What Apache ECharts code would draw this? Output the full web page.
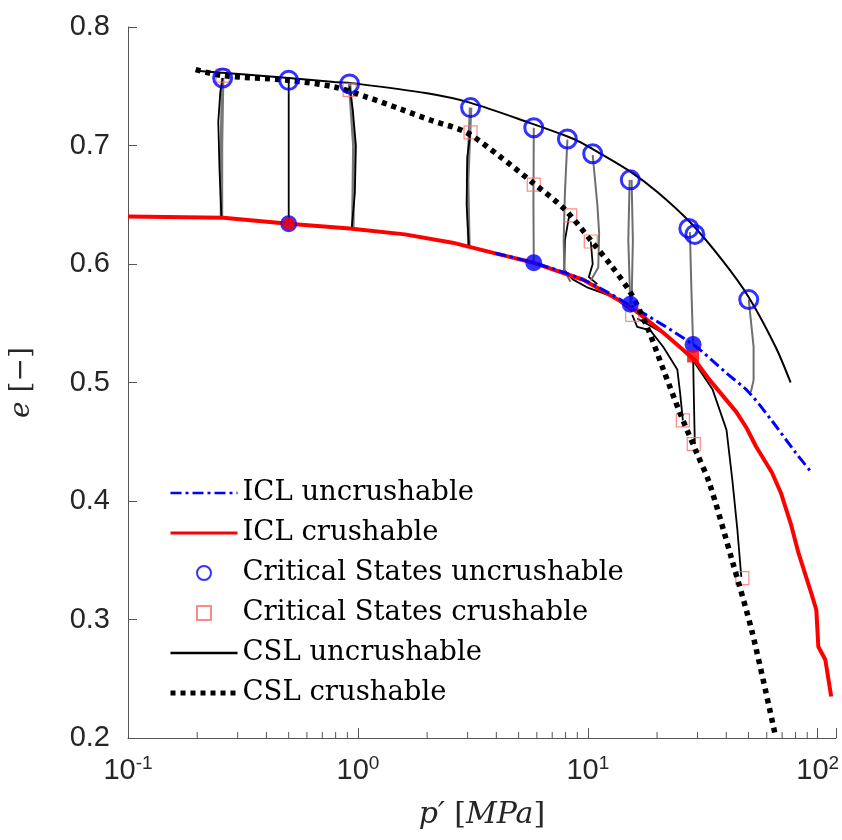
<!DOCTYPE html>
<html><head><meta charset="utf-8">
<script src="https://cdn.jsdelivr.net/npm/echarts@6/dist/echarts.min.js"></script>
<style>html,body{margin:0;padding:0;background:#fff}#c{width:842px;height:840px}</style>
</head><body><div id="c"></div>
<script>
// ---- tick labels ----
const xTickValues = [0.1, 1, 10, 100];
const xTickExponents = ['-1', '0', '1', '2'];
const minorTickValues = [0.2,0.3,0.4,0.5,0.6,0.7,0.8,0.9,2,3,4,5,6,7,8,9,20,30,40,50,60,70,80,90];

// ---- ICL uncrushable ----
const iclUncP = [3.96, 5.82, 9.6, 15.3, 28.7, 40, 50, 63, 80, 94];
const iclUncE = [0.609, 0.601, 0.5865, 0.565, 0.532, 0.508, 0.492, 0.468, 0.441, 0.424];
// ---- ICL crushable ----
const iclCruP = [0.1, 0.26, 0.5, 0.92, 1.6, 2.58, 3.96, 5.82, 9.6, 15.3, 21.3, 29.2, 33.9, 44.3, 48.9, 53.9, 63.2, 69.1, 76.3, 82.5, 93.8, 98.6, 100.6, 107.9, 114.4];
const iclCruE = [0.640, 0.639, 0.634, 0.630, 0.625, 0.618, 0.609, 0.601, 0.5865, 0.564, 0.542, 0.519, 0.502, 0.475, 0.462, 0.446, 0.424, 0.407, 0.381, 0.356, 0.322, 0.308, 0.277, 0.266, 0.235];
// ---- CSL uncrushable ----
const cslUncP = [0.197, 0.5, 0.789, 1, 2, 3.09, 5.71, 8.06, 9.36, 10.5, 15.3, 20, 27.8, 38.5, 50.1, 65.6, 76.2];
const cslUncE = [0.763, 0.757, 0.7536, 0.752, 0.744, 0.736, 0.7185, 0.708, 0.7025, 0.697, 0.678, 0.661, 0.6354, 0.603, 0.572, 0.530, 0.500];
// ---- CSL crushable ----
const cslCruP = [0.197, 0.258, 0.5, 0.789, 1.093, 1.53, 2.12, 2.94, 4.12, 5.71, 7.91, 10.6, 12.6, 15.3, 18.1, 21.3, 25.2, 29.7, 33.8, 42.4, 51.9, 65.6];
const cslCruE = [0.764, 0.759, 0.755, 0.7494, 0.7409, 0.7308, 0.7207, 0.7114, 0.6911, 0.6692, 0.6464, 0.617, 0.599, 0.576, 0.547, 0.511, 0.474, 0.441, 0.415, 0.350, 0.289, 0.201];
// ---- Critical states uncrushable (open circles) ----
const csUncP = [0.258, 0.50, 0.92, 3.09, 5.82, 8.15, 10.5, 15.3, 27.5, 29.2, 50.1];
const csUncE = [0.757, 0.755, 0.752, 0.732, 0.715, 0.7055, 0.693, 0.671, 0.630, 0.625, 0.570];
// ---- Critical states crushable (open squares) ----
const csCruP = [0.258, 0.92, 3.09, 5.82, 8.38, 10.3, 15.6, 25.9, 28.9, 47];
const csCruE = [0.759, 0.747, 0.711, 0.667, 0.641, 0.619, 0.557, 0.468, 0.448, 0.335];
// ---- initial states (filled markers) ----
const initUncP = [0.5, 5.82, 15.3, 28.7];
const initUncE = [0.634, 0.601, 0.566, 0.532];
const initCruCircleP = [0.5];
const initCruCircleE = [0.634];
const initCruSquareP = [28.7];
const initCruSquareE = [0.522];

// ---- test paths (crushable, black) ----
const pathCruA = [[0.255,0.639],[0.250,0.68],[0.247,0.72],[0.252,0.745],[0.258,0.757]];
const pathCruB = [[0.5,0.634],[0.5,0.70],[0.5,0.755]];
const pathCruC = [[0.94,0.630],[0.97,0.66],[0.98,0.70],[0.95,0.73],[0.92,0.750]];
const pathCruD = [[3.04,0.614],[2.97,0.65],[2.99,0.69],[3.09,0.712]];
const pathCruF = [[8.3,0.641],[7.95,0.62],[7.9,0.595],[8.6,0.587],[10,0.580],[13,0.572],[15.6,0.560]];
const pathCruG = [[10.3,0.619],[10.5,0.60],[10.1,0.589],[11,0.583]];
const pathCruK = [[15.6,0.557],[16.4,0.547],[18.7,0.544],[21.3,0.530],[24.5,0.511],[25.2,0.491],[25.9,0.468]];
const pathCruL = [[28.7,0.522],[28.9,0.49],[29.2,0.448]];
const pathCruM = [[16.4,0.554],[22.1,0.540],[28.6,0.519],[34.9,0.494],[40.1,0.460],[42.5,0.418],[44.7,0.376],[46.5,0.336]];
// ---- test paths (uncrushable, gray) ----
const pathUncA = [[0.258,0.757],[0.255,0.70],[0.255,0.639]];
const pathUncC = [[0.92,0.752],[0.96,0.70],[0.95,0.630]];
const pathUncD = [[3.09,0.732],[3.0,0.67],[3.04,0.614]];
const pathUncE = [[5.82,0.601],[5.80,0.65],[5.82,0.715]];
const pathUncF = [[8.15,0.705],[7.95,0.66],[7.85,0.62],[7.9,0.595],[8.4,0.585]];
const pathUncG = [[10.5,0.692],[11.0,0.65],[11.2,0.626],[11.1,0.597],[10.3,0.586]];
const pathUncH1 = [[15.2,0.671],[15.0,0.62],[15.3,0.566]];
const pathUncH2 = [[15.5,0.671],[15.7,0.62],[15.5,0.566]];
const pathUncI = [[27.8,0.627],[28.2,0.58],[28.7,0.532]];
const pathUncJ = [[50.1,0.570],[52.6,0.53],[52.6,0.502],[51.2,0.492]];

const zip = (a, b) => a.map((v, i) => [v, b[i]]);
const SERIF = 'DejaVu Serif';
const SANS = 'Liberation Sans';

const pathSeries = (d, color, w) => ({
  type: 'line', data: d, showSymbol: false, symbol: 'none', silent: true, z: 1,
  lineStyle: { color: color, width: w }
});

const series = [];
[pathUncA, pathUncC, pathUncD].forEach(p => series.push(pathSeries(p, '#777777', 3.5)));
[pathCruA, pathCruB, pathCruC, pathCruD, pathCruF, pathCruG, pathCruK, pathCruL, pathCruM].forEach(p => series.push(pathSeries(p, '#000000', 1.8)));
[pathUncE, pathUncF, pathUncG, pathUncH1, pathUncH2, pathUncI, pathUncJ].forEach(p => series.push(pathSeries(p, '#6e6e6e', 2)));

series.push({
  name: 'ICL crushable', type: 'line', data: zip(iclCruP, iclCruE), showSymbol: false, symbol: 'none', z: 3,
  lineStyle: { color: '#ff0000', width: 4 }, itemStyle: { color: '#ff0000' }
});
series.push({
  name: 'ICL uncrushable', type: 'line', data: zip(iclUncP, iclUncE), showSymbol: false, symbol: 'none', z: 4, smooth: 0.3,
  lineStyle: { color: '#0000ff', width: 3, type: [11, 4, 3, 4] }, itemStyle: { color: '#0000ff' }
});
series.push({
  name: 'CSL uncrushable', type: 'line', data: zip(cslUncP, cslUncE), showSymbol: false, symbol: 'none', z: 5, smooth: 0.3,
  lineStyle: { color: '#000000', width: 2 }, itemStyle: { color: '#000000' }
});
series.push({
  name: 'Critical States crushable', type: 'scatter', data: zip(csCruP, csCruE), symbol: 'rect', symbolSize: 13, z: 6,
  itemStyle: { color: 'rgba(255,255,255,0)', borderColor: '#ff6a6a', borderWidth: 1.2 }
});
series.push({
  name: 'CSL crushable', type: 'line', data: zip(cslCruP, cslCruE), showSymbol: false, symbol: 'none', z: 7, smooth: 0.3,
  lineStyle: { color: '#000000', width: 5.5, type: [5, 5] }, itemStyle: { color: '#000000' }
});
series.push({
  name: 'Critical States uncrushable', type: 'scatter', data: zip(csUncP, csUncE), symbol: 'circle', symbolSize: 18, z: 8,
  itemStyle: { color: 'rgba(255,255,255,0)', borderColor: '#0000ff', borderWidth: 3 }
});
series.push({
  type: 'scatter', data: zip(initUncP, initUncE), symbol: 'circle', symbolSize: 17, z: 9, silent: true,
  itemStyle: { color: '#0000ff' }
});
series.push({
  type: 'scatter', data: zip(initCruCircleP, initCruCircleE), symbol: 'circle', symbolSize: 13, z: 10, silent: true,
  itemStyle: { color: '#ff0000' }
});
series.push({
  type: 'scatter', data: zip(initCruSquareP, initCruSquareE), symbol: 'rect', symbolSize: 12, z: 10, silent: true,
  itemStyle: { color: '#ff0000' }
});
// minor ticks of the log x axis
series.push({
  type: 'custom', silent: true, z: 20, clip: false,
  data: minorTickValues.map(v => [v, 0.2]),
  renderItem: (params, api) => {
    const pt = api.coord([api.value(0), api.value(1)]);
    return { type: 'line', shape: { x1: pt[0], y1: pt[1], x2: pt[0], y2: pt[1] - 6 },
      style: { stroke: '#555555', lineWidth: 1 } };
  }
});

const hideSym = { opacity: 0 };
const option = {
  animation: false,
  backgroundColor: '#ffffff',
  grid: { left: 122, right: 4, top: 27, bottom: 102 },
  xAxis: {
    type: 'log', logBase: 10, min: 0.1, max: 120,
    name: '{i|p′ }{n|[}{i|MPa}{n|]}', nameLocation: 'middle', nameGap: 62,
    nameTextStyle: { rich: {
      i: { fontFamily: SERIF, fontStyle: 'italic', fontSize: 30, color: '#262626' },
      n: { fontFamily: SERIF, fontSize: 30, color: '#262626' } } },
    axisLine: { show: true, onZero: false, lineStyle: { color: '#555555', width: 1 } },
    axisTick: { show: true, inside: true, length: 10, lineStyle: { color: '#555555' } },
    splitLine: { show: false },
    axisLabel: {
      margin: 16, color: '#262626',
      formatter: (v) => {
        const i = xTickValues.findIndex(t => Math.abs(Math.log10(t) - Math.log10(v)) < 1e-6);
        return i < 0 ? '' : '{b|10}{s|' + xTickExponents[i] + '}';
      },
      rich: {
        b: { fontFamily: SANS, fontSize: 29, color: '#262626' },
        s: { fontFamily: SANS, fontSize: 19, color: '#262626', padding: [0, 0, 14, 0] }
      }
    }
  },
  yAxis: {
    type: 'value', min: 0.2, max: 0.8, interval: 0.1,
    name: '{i|e }{n|[−]}', nameLocation: 'middle', nameGap: 92, nameRotate: 90,
    nameTextStyle: { rich: {
      i: { fontFamily: SERIF, fontStyle: 'italic', fontSize: 28, color: '#262626' },
      n: { fontFamily: SERIF, fontSize: 28, color: '#262626' } } },
    axisLine: { show: true, lineStyle: { color: '#555555', width: 1 } },
    axisTick: { show: true, inside: true, length: 9, lineStyle: { color: '#555555' } },
    splitLine: { show: false },
    axisLabel: { margin: 18, fontFamily: SANS, fontSize: 29, color: '#262626', formatter: v => v.toFixed(1) }
  },
  legend: {
    orient: 'vertical', left: 163, top: 474,
    itemWidth: 67, itemHeight: 14, itemGap: 12,
    textStyle: { fontFamily: SERIF, fontSize: 27.5, color: '#000000', lineHeight: 28 },
    data: [
      { name: 'ICL uncrushable', itemStyle: hideSym, lineStyle: { width: 2.5 } },
      { name: 'ICL crushable', itemStyle: hideSym, lineStyle: { width: 3 } },
      { name: 'Critical States uncrushable' },
      { name: 'Critical States crushable', icon: 'path://M0,0H10V10H0Z' },
      { name: 'CSL uncrushable', itemStyle: hideSym, lineStyle: { width: 2.5 } },
      { name: 'CSL crushable', itemStyle: hideSym, lineStyle: { width: 5 } }
    ]
  },
  series: series
};

const chart = echarts.init(document.getElementById('c'), null, { renderer: 'canvas' });
chart.setOption(option);
</script>
</body></html>
